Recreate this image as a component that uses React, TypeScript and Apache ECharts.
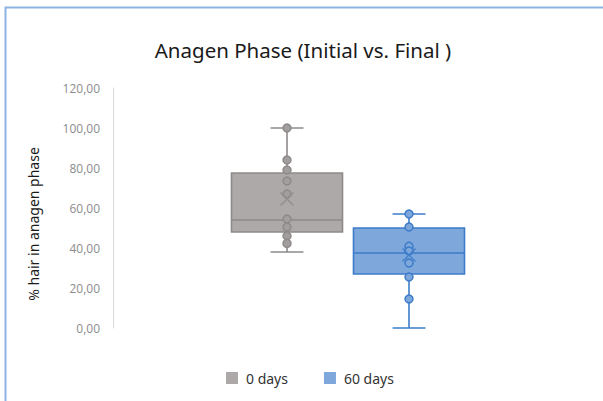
import React, { useEffect, useRef } from "react";
import * as echarts from "echarts";

const categories = ["0 days", "60 days"];
// [min, Q1, median, Q3, max]
const boxStats0 = [38, 48, 54, 77.5, 100];
const boxStats60 = [0, 27, 37.5, 50, 57];
const points0 = [100, 84, 79, 73.5, 67, 54.5, 50.5, 46, 42.3];
const points60 = [57, 50.5, 40.8, 38.5, 32.5, 25.5, 14.5];
const mean0 = 64.5;
const mean60 = 36.5;
const yTicks = [0, 20, 40, 60, 80, 100, 120];
const yAxisTitle = "% hair in anagen phase";

const GRAY_FILL = "#ada9a9";
const GRAY_LINE = "#8e8a8a";
const BLUE_FILL = "#7ea7dc";
const BLUE_LINE = "#3d7cc9";

function makeRender(fill: string, stroke: string) {
  return (params: any, api: any) => {
    const x = api.value(0);
    const pMin = api.coord([x, api.value(1)]);
    const pQ1 = api.coord([x, api.value(2)]);
    const pMed = api.coord([x, api.value(3)]);
    const pQ3 = api.coord([x, api.value(4)]);
    const pMax = api.coord([x, api.value(5)]);
    const band = api.size([1, 0])[0];
    const boxW = band * 0.91;
    const capW = band * 0.27;
    const cx = pMed[0];
    const ls = { stroke, lineWidth: 1.6 };
    return {
      type: "group",
      children: [
        { type: "line", shape: { x1: cx, y1: pMax[1], x2: cx, y2: pMin[1] }, style: ls },
        { type: "line", shape: { x1: cx - capW / 2, y1: pMax[1], x2: cx + capW / 2, y2: pMax[1] }, style: ls },
        { type: "line", shape: { x1: cx - capW / 2, y1: pMin[1], x2: cx + capW / 2, y2: pMin[1] }, style: ls },
        {
          type: "rect",
          shape: { x: cx - boxW / 2, y: pQ3[1], width: boxW, height: pQ1[1] - pQ3[1] },
          style: { fill, stroke, lineWidth: 1.6 },
        },
        { type: "line", shape: { x1: cx - boxW / 2, y1: pMed[1], x2: cx + boxW / 2, y2: pMed[1] }, style: ls },
      ],
    };
  };
}

export default function App() {
  const ref = useRef<HTMLDivElement>(null);
  useEffect(() => {
    if (!ref.current) return;
    const chart = echarts.init(ref.current, null, { renderer: "svg" });
    const xPath = "path://M0,0L10,10M10,0L0,10";
    chart.setOption({
      animation: false,
      backgroundColor: "#ffffff",
      title: {
        text: "Anagen Phase (Initial vs. Final )",
        left: 298,
        textAlign: "center",
        top: 34,
        textStyle: { fontFamily: "Noto Sans", fontSize: 20.5, fontWeight: "normal", color: "#1a1a1a" },
      },
      graphic: [
        {
          type: "rect",
          shape: { x: 5.5, y: 7.5, width: 700, height: 500 },
          style: { fill: "none", stroke: "#8db3e2", lineWidth: 2 },
          silent: true,
        },
        {
          type: "text",
          x: 33,
          y: 224,
          rotation: Math.PI / 2,
          style: {
            text: yAxisTitle,
            align: "center",
            verticalAlign: "middle",
            fontFamily: "Noto Sans",
            fontSize: 14,
            fill: "#1a1a1a",
          },
          silent: true,
        },
      ],
      legend: {
        data: categories,
        left: 221,
        top: 366,
        icon: "rect",
        itemWidth: 12,
        itemHeight: 12,
        itemGap: 36,
        textStyle: { fontFamily: "Noto Sans", fontSize: 14, color: "#333333", padding: [0, 0, 0, 3] },
      },
      grid: { left: 226, right: 133, top: 88, bottom: 73 },
      xAxis: {
        type: "category",
        data: categories,
        show: false,
      },
      yAxis: {
        type: "value",
        min: 0,
        max: 120,
        interval: 20,
        offset: 113,
        axisLine: { show: true, lineStyle: { color: "#d9d9d9", width: 1 } },
        axisTick: { show: false },
        splitLine: { show: false },
        axisLabel: {
          margin: 13,
          fontFamily: "Open Sans",
          fontSize: 12,
          color: "#8c8c8c",
          formatter: (v: number) => (yTicks.includes(v) ? v.toFixed(2).replace(".", ",") : ""),
        },
      },
      series: [
        {
          name: categories[0],
          type: "custom",
          renderItem: makeRender(GRAY_FILL, GRAY_LINE),
          itemStyle: { color: GRAY_FILL },
          encode: { x: 0, y: [1, 2, 3, 4, 5] },
          data: [[0, ...boxStats0]],
          z: 1,
        },
        {
          name: categories[1],
          type: "custom",
          renderItem: makeRender(BLUE_FILL, BLUE_LINE),
          itemStyle: { color: BLUE_FILL },
          encode: { x: 0, y: [1, 2, 3, 4, 5] },
          data: [[1, ...boxStats60]],
          z: 1,
        },
        {
          name: categories[0],
          type: "scatter",
          symbol: "circle",
          symbolSize: 8,
          itemStyle: { color: "#a29e9e", borderColor: GRAY_LINE, borderWidth: 1.5, opacity: 1 },
          data: points0.map((v) => [categories[0], v]),
          z: 3,
        },
        {
          name: categories[1],
          type: "scatter",
          symbol: "circle",
          symbolSize: 8,
          itemStyle: { color: BLUE_FILL, borderColor: BLUE_LINE, borderWidth: 1.5, opacity: 1 },
          data: points60.map((v) => [categories[1], v]),
          z: 3,
        },
        {
          name: "mean0",
          type: "scatter",
          symbol: xPath,
          symbolSize: 13,
          itemStyle: { color: "none", borderColor: GRAY_LINE, borderWidth: 1.6 },
          data: [[categories[0], mean0]],
          z: 4,
        },
        {
          name: "mean60",
          type: "scatter",
          symbol: xPath,
          symbolSize: 13,
          itemStyle: { color: "none", borderColor: BLUE_LINE, borderWidth: 1.6 },
          data: [[categories[1], mean60]],
          z: 4,
        },
      ],
    });
    return () => chart.dispose();
  }, []);
  return (
    <div
      ref={ref}
      style={{ position: "absolute", left: 0, top: 0, width: 603, height: 401 }}
    />
  );
}
